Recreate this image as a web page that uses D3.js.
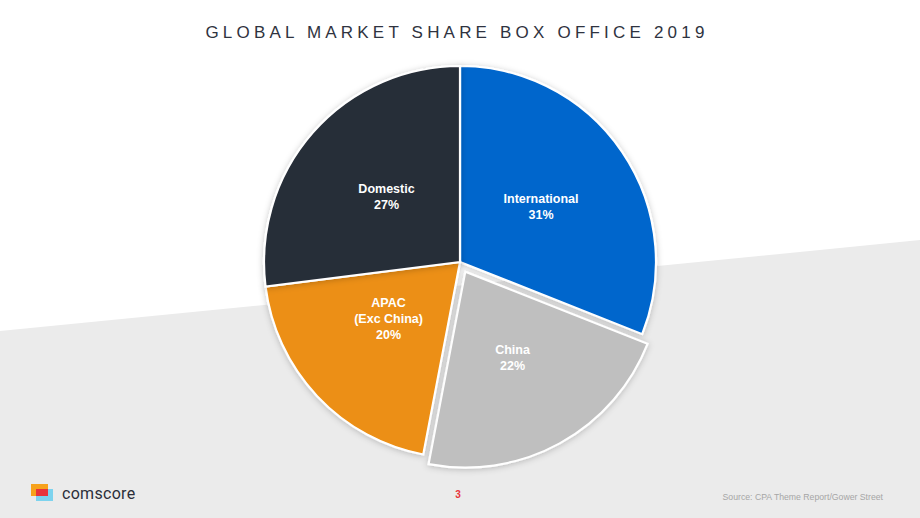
<!DOCTYPE html>
<html>
<head>
<meta charset="utf-8">
<script src="https://cdn.jsdelivr.net/npm/d3@7"></script>
<style>
  body { margin: 0; background: #fff; }
  svg { display: block; font-family: Arial, "Liberation Sans", sans-serif; }
  .slice_label { fill: #fff; font-weight: bold; font-size: 12.5px; text-anchor: middle; }
</style>
</head>
<body>
<div id="chart_container"></div>
<script>
const categories = ["International", "China", "APAC\n(Exc China)", "Domestic"];
const shares = [31, 22, 20, 27];
const sliceColors = ["#0066cc", "#bfbfbf", "#ec8f13", "#272d38"];
const explodedCategory = "China";
const titleText = "GLOBAL MARKET SHARE BOX OFFICE 2019";
const sourceText = "Source: CPA Theme Report/Gower Street";

const width = 920, height = 518;
const cx = 460, cy = 262, radius = 196;

const svg = d3.select("#chart_container").append("svg")
    .attr("width", width)
    .attr("height", height);

// background: white top, grey slanted band below
svg.append("rect").attr("width", width).attr("height", height).attr("fill", "#fff");
svg.append("path")
    .attr("d", `M0,331 L${width},240 L${width},${height} L0,${height} Z`)
    .attr("fill", "#ebebeb");

const defs = svg.append("defs");
const shadow = defs.append("filter").attr("id", "pie_shadow")
    .attr("x", "-20%").attr("y", "-20%").attr("width", "140%").attr("height", "140%");
shadow.append("feDropShadow")
    .attr("dx", 0).attr("dy", 1)
    .attr("stdDeviation", 3)
    .attr("flood-color", "#000")
    .attr("flood-opacity", 0.22);

// title
svg.append("text")
    .attr("x", 457)
    .attr("y", 38)
    .attr("text-anchor", "middle")
    .attr("fill", "#2f3340")
    .style("font-size", "17px")
    .style("letter-spacing", "4.2px")
    .text(titleText);

const data = categories.map((c, i) => ({ name: c, value: shares[i], color: sliceColors[i] }));

const pie = d3.pie().sort(null).value(d => d.value);
const arc = d3.arc().innerRadius(0).outerRadius(radius);
const arcs = pie(data);

const explodeDist = 11;
function offset(d) {
    if (!d.data.name.startsWith(explodedCategory)) return [0, 0];
    const a = (d.startAngle + d.endAngle) / 2;
    return [Math.sin(a) * explodeDist, -Math.cos(a) * explodeDist];
}

const g = svg.append("g").attr("transform", `translate(${cx},${cy})`);

g.selectAll("path")
    .data(arcs)
    .join("path")
    .attr("d", arc)
    .attr("transform", d => `translate(${offset(d)})`)
    .attr("fill", d => d.data.color)
    .attr("stroke", "#fff")
    .attr("stroke-width", 2.2)
    .attr("stroke-linejoin", "miter")
    .attr("filter", "url(#pie_shadow)");

// labels (three-line label sits a bit higher than its centroid)
const lineH = 16;
g.selectAll("text.slice_label")
    .data(arcs)
    .join("text")
    .attr("class", "slice_label")
    .each(function(d) {
        const [ox, oy] = offset(d);
        const [x, y] = arc.centroid(d);
        const lines = d.data.name.split("\n").concat([d.data.value + "%"]);
        const nudge = lines.length > 2 ? -10 : 0;
        const top = y + oy + nudge - (lines.length - 1) * lineH / 2 + 4;
        d3.select(this).selectAll("tspan")
            .data(lines)
            .join("tspan")
            .attr("x", x + ox)
            .attr("y", (l, i) => top + i * lineH)
            .text(l => l);
    });

// footer: logo
const logo = svg.append("g").attr("transform", "translate(31,484)");
logo.append("rect").attr("x", 0).attr("y", 0).attr("width", 17).attr("height", 12).attr("fill", "#f7a21b");
logo.append("rect").attr("x", 5).attr("y", 5).attr("width", 17).attr("height", 12).attr("fill", "#7dd3ee");
logo.append("rect").attr("x", 5).attr("y", 5).attr("width", 12).attr("height", 7).attr("fill", "#e8343b");
svg.append("text")
    .attr("x", 62)
    .attr("y", 499)
    .attr("fill", "#2b2f3a")
    .style("font-size", "16px")
    .style("font-family", "Roboto, Arial, sans-serif")
    .style("letter-spacing", "0.3px")
    .text("comscore");

// page number
svg.append("text")
    .attr("x", 458)
    .attr("y", 498)
    .attr("text-anchor", "middle")
    .attr("fill", "#e8343b")
    .style("font-size", "10px")
    .style("font-weight", "bold")
    .text("3");

// source
svg.append("text")
    .attr("x", 883)
    .attr("y", 500)
    .attr("text-anchor", "end")
    .attr("fill", "#a6a6a6")
    .style("font-size", "8.7px")
    .text(sourceText);
</script>
</body>
</html>
